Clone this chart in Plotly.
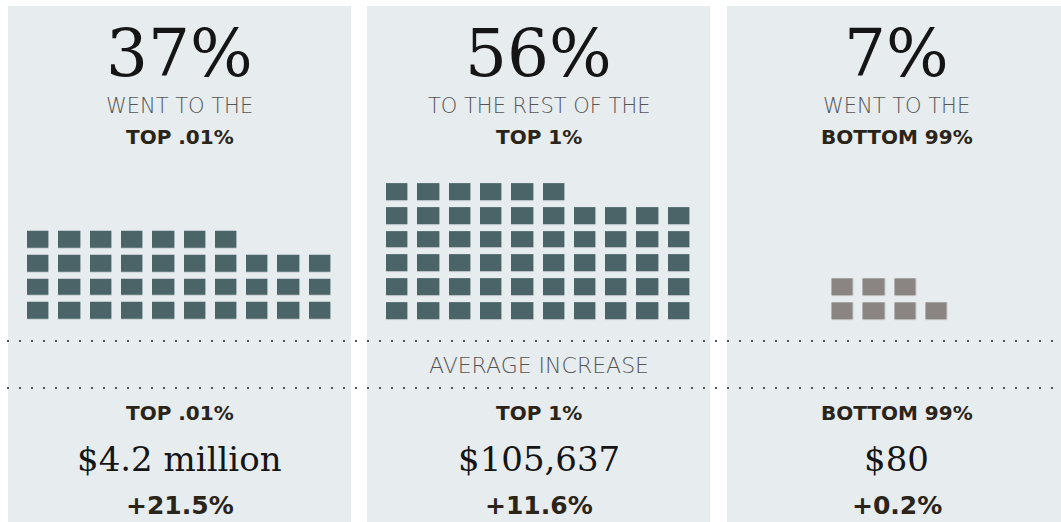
import plotly.graph_objects as go

# ---- data ----
groups = ["TOP .01%", "TOP 1%", "BOTTOM 99%"]
share_pct = [37, 56, 7]
lead_text = ["WENT TO THE", "TO THE REST OF THE", "WENT TO THE"]
avg_increase = ["$4.2 million", "$105,637", "$80"]
pct_change = ["+21.5%", "+11.6%", "+0.2%"]
section_label = "AVERAGE INCREASE"

# ---- layout / style ----
W, H = 1061, 522
panel_x = [(8, 351), (367, 710), (727, 1070)]
panel_top = 6
text_cx = [179.5, 538.5, 896.5]
grid_cx = [179.5, 538.5, 890.0]
grid_cols = [10, 10, 4]
sq_colors = ["#4b6467", "#4b6467", "#8a8582"]
col_step, row_step = 31.3, 23.8
sq_w, sq_h = 21.7, 17.0
bottom_row_y = 311.0
panel_bg = "#e7ecef"
dot_y = [341, 388]

fig = go.Figure()

# waffle grids as heatmaps
for i, n in enumerate(share_pct):
    cols = grid_cols[i]
    rows = -(-n // cols)
    xs = [grid_cx[i] + (k - (cols - 1) / 2) * col_step for k in range(cols)]
    ys = [bottom_row_y - (rows - 1 - r) * row_step for r in range(rows)]  # top -> bottom
    z = []
    for r in range(rows):
        rb = rows - 1 - r  # index from bottom
        row = []
        for k in range(cols):
            idx = rb * cols + k
            row.append(1 if idx < n else None)
        z.append(row)
    fig.add_trace(go.Heatmap(
        x=xs, y=ys, z=z,
        colorscale=[[0, sq_colors[i]], [1, sq_colors[i]]],
        showscale=False, xgap=col_step - sq_w, ygap=row_step - sq_h,
        hoverinfo="skip",
    ))

shapes = []
for (x0, x1) in panel_x:
    shapes.append(dict(type="rect", xref="x", yref="y", x0=x0, x1=x1, y0=panel_top, y1=H + 10,
                       fillcolor=panel_bg, line=dict(width=0), layer="below"))
for y in dot_y:
    shapes.append(dict(type="line", xref="x", yref="y", x0=7, x1=W, y0=y, y1=y,
                       line=dict(color="#555555", width=2, dash="2px,10px")))

serif = "DejaVu Serif"
sans = "DejaVu Sans"
ann = []
def add(x, y, text, family, size, color, weight="normal"):
    ann.append(dict(x=x, y=y, xref="x", yref="y", text=text, showarrow=False,
                    xanchor="center", yanchor="middle",
                    font=dict(family=family, size=size, color=color, weight=weight)))

for i in range(3):
    cx = text_cx[i]
    add(cx, 53.5, f"{share_pct[i]}%", serif, 66, "#151515")
    add(cx, 106, lead_text[i], sans, 21, "#555555", 300)
    add(cx, 136.5, groups[i], sans, 20, "#2a2419", "bold")
    add(cx, 413, groups[i], sans, 20, "#2a2419", "bold")
    add(cx, 458.5, avg_increase[i], serif, 34, "#151515")
    add(cx, 505, pct_change[i], sans, 25, "#2a2419", "bold")
add(text_cx[1], 365, section_label, sans, 22, "#555555", 300)

fig.update_layout(
    width=W, height=H, margin=dict(l=0, r=0, t=0, b=0),
    paper_bgcolor="white", plot_bgcolor="white",
    xaxis=dict(range=[0, W], visible=False, fixedrange=True),
    yaxis=dict(range=[H, 0], visible=False, fixedrange=True),
    shapes=shapes, annotations=ann, showlegend=False,
)
fig.write_html("out.html", config={"displayModeBar": False},
               post_script="document.body.style.margin='0';document.body.style.overflow='hidden';")
